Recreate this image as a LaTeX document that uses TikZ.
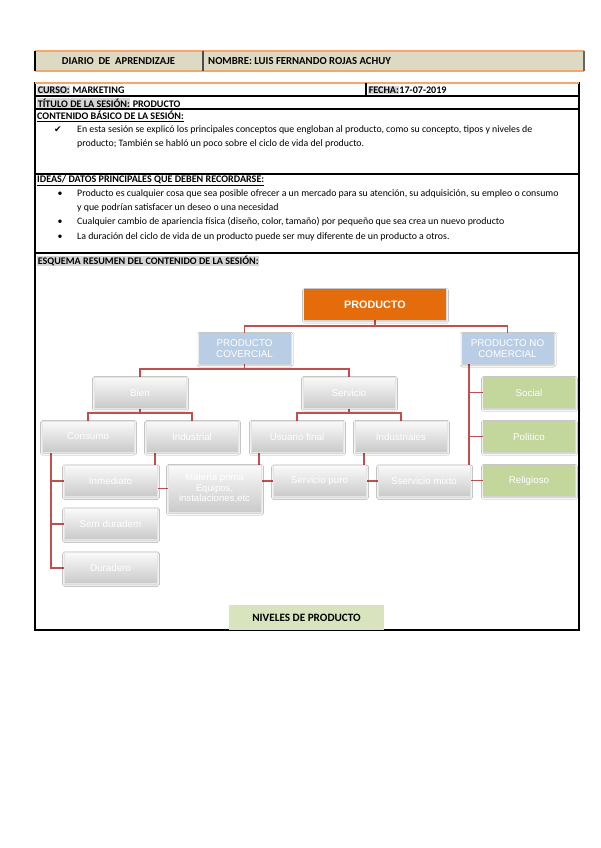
\documentclass[tikz,border=0pt]{standalone}
\usepackage{fontspec}
\setmainfont{Carlito}
\newfontfamily\arialf{Liberation Sans}
\newfontfamily\djv{DejaVu Sans}
\usetikzlibrary{backgrounds,shadows.blur}
\definecolor{orangeLine}{HTML}{F6A66A}
\definecolor{beige}{HTML}{DDD9C3}
\definecolor{hlgray}{HTML}{D6D6D6}
\definecolor{connRed}{HTML}{C0504D}
\definecolor{orangeBox}{HTML}{E46C0A}
\definecolor{blueBox}{HTML}{B9CDE5}
\definecolor{greenBox}{HTML}{C3D69B}
\definecolor{nivGreen}{HTML}{D7E4BD}
\newcommand\grayhl[1]{{\setlength{\fboxsep}{0.6pt}\colorbox{hlgray}{#1}}}
\tikzset{
  txt/.style={anchor=west, inner sep=0pt, font=\fontsize{9.85}{11}\selectfont},
  btxt/.style={txt, font=\fontsize{10.1}{11}\selectfont\bfseries},
  boxbase/.style={inner sep=0pt, align=center, text=white,
    font=\arialf\fontsize{9.8}{11}\selectfont,
    minimum width=92pt, minimum height=31pt,
    blur shadow={shadow blur steps=4, shadow xshift=0.6pt, shadow yshift=-1.2pt, shadow opacity=25}},
  gbox/.style={boxbase, top color=gray!4, bottom color=gray!42, draw=gray!20, line width=0.3pt},
  bbox/.style={boxbase, fill=blueBox},
  grbox/.style={boxbase, fill=greenBox},
  conn/.style={draw=connRed, line width=1.7pt}
}
\begin{document}
\begin{tikzpicture}[x=1pt,y=-1pt]
\useasboundingbox (0,0) rectangle (600,848);

% ---------- header ----------
\fill[beige] (35,51) rectangle (584,71);
\draw[orangeLine, line width=1.5pt] (35,51) -- (584,51);
\draw[orangeLine, line width=1.5pt] (35,71) -- (584,71);
\draw[black, line width=1.5pt] (35,51) -- (35,71);
\draw[black!70, line width=1.2pt] (203,51) -- (203,71);
\draw[black!60, line width=1.2pt] (584,51) -- (584,71);
\node[inner sep=0pt, font=\fontsize{10.6}{12}\selectfont\bfseries] (hdiario) at (118.5,61) {DIARIO\ \ DE\ \ APRENDIZAJE};
\node[btxt, font=\fontsize{10.7}{12}\selectfont\bfseries] (hnombre) at (208,61) {NOMBRE: LUIS FERNANDO ROJAS ACHUY};

% ---------- table ----------
\draw[black, line width=1.2pt] (35,83) rectangle (579,630);
\draw[orangeLine, line width=1.6pt] (35,83) -- (579,83);
\draw[black, line width=1.2pt] (35,96) -- (579,96);
\draw[black, line width=1.2pt] (35,109) -- (579,109);
\draw[black, line width=1.2pt] (35,174) -- (579,174);
\draw[black, line width=1.2pt] (35,253) -- (579,253);
\draw[black, line width=1.2pt] (366,83) -- (366,96);

\node[btxt] (curso) at (37,90) {\grayhl{CURSO:} MARKETING};
\node[btxt] (fecha) at (368,90) {\grayhl{FECHA:}17-07-2019};
\node[btxt] (titulo) at (37,103) {\grayhl{TÍTULO DE LA SESIÓN:} PRODUCTO};
\node[btxt] (contenido) at (37,116.5) {\underline{CONTENIDO BÁSICO DE LA SESIÓN:}};
\node[inner sep=0pt, font=\djv\fontsize{9}{10}\selectfont] (check) at (58,130) {✔};
\node[txt] (c1) at (77,130) {En esta sesión se explicó los principales conceptos que engloban al producto, como su concepto, tipos y niveles de};
\node[txt] (c2) at (77,143.5) {producto; También se habló un poco sobre el ciclo de vida del producto.};

\node[btxt] (ideas) at (37,180.5) {\underline{IDEAS/ DATOS PRINCIPALES QUE DEBEN RECORDARSE:}};
\node[inner sep=0pt, font=\fontsize{9.8}{11}\selectfont] (b1) at (60,194) {\textbullet};
\node[txt] (i1) at (77,194) {Producto es cualquier cosa que sea posible ofrecer a un mercado para su atención, su adquisición, su empleo o consumo};
\node[txt] (i1b) at (77,207.5) {y que podrían satisfacer un deseo o una necesidad};
\node[inner sep=0pt, font=\fontsize{9.8}{11}\selectfont] (b2) at (60,222) {\textbullet};
\node[txt] (i2) at (77,222) {Cualquier cambio de apariencia física (diseño, color, tamaño) por pequeño que sea crea un nuevo producto};
\node[inner sep=0pt, font=\fontsize{9.8}{11}\selectfont] (b3) at (60,237) {\textbullet};
\node[txt] (i3) at (77,237) {La duración del ciclo de vida de un producto puede ser muy diferente de un producto a otros.};

\node[btxt] (esquema) at (37,261) {\grayhl{ESQUEMA RESUMEN DEL CONTENIDO DE LA SESIÓN:}};

% ---------- diagram ----------
\node[boxbase, fill=orangeBox, minimum width=142pt, font=\arialf\fontsize{10.8}{12}\selectfont\bfseries] (prod) at (375,304.5) {PRODUCTO};
\node[bbox] (pcom) at (244.5,348.5) {PRODUCTO\\COVERCIAL};
\node[bbox] (pnc) at (507.5,348.5) {PRODUCTO NO\\COMERCIAL};
\node[gbox] (bien) at (140,392.5) {Bien};
\node[gbox] (serv) at (349,392.5) {Servicio};
\node[gbox] (cons) at (88,436.5) {Consumo};
\node[gbox] (indu) at (192,436.5) {Industrial};
\node[gbox] (usu) at (297,436.5) {Usuario final};
\node[gbox] (indus) at (401,436.5) {Industriales};
\node[gbox, minimum width=93pt] (inm) at (110.5,481) {Inmediato};
\node[gbox, minimum width=93pt, minimum height=47pt, font=\arialf\fontsize{9.6}{10.6}\selectfont] (mat) at (214.5,488.5) {Materia prima\\Equipos,\\instalaciones,etc};
\node[gbox, minimum width=93pt] (spuro) at (319.5,481) {Servicio puro};
\node[gbox] (smix) at (424,481) {Sservicio mixto};
\node[gbox, minimum width=93pt] (sem) at (110.5,524) {Sem duradem};
\node[gbox, minimum width=93pt] (dur) at (110.5,568) {Duradero};
\node[grbox] (soc) at (529,392.5) {Social};
\node[grbox] (pol) at (529,436.5) {Politico};
\node[grbox] (rel) at (529,480.5) {Religioso};

\node[inner sep=0pt, fill=nivGreen, minimum width=155pt, minimum height=25pt, font=\fontsize{11.2}{13}\selectfont\bfseries] (niv) at (306.5,617.5) {NIVELES DE PRODUCTO};

\begin{pgfonlayer}{background}
\fill[white] (0,0) rectangle (600,848);
\draw[conn] (prod.south) -- ++(0,6) -| (pcom.north);
\draw[conn] (prod.south) -- ++(0,6) -| (pnc.north);
\draw[conn] (pcom.south) -- ++(0,5) -| (bien.north);
\draw[conn] (pcom.south) -- ++(0,5) -| (serv.north);
\draw[conn] (bien.south) -- ++(0,5) -| (cons.north);
\draw[conn] (bien.south) -- ++(0,5) -| (indu.north);
\draw[conn] (serv.south) -- ++(0,5) -| (usu.north);
\draw[conn] (serv.south) -- ++(0,5) -| (indus.north);
\draw[conn] (cons.south west) ++(9,0) |- (inm.west);
\draw[conn] (cons.south west) ++(9,0) |- (sem.west);
\draw[conn] (cons.south west) ++(9,0) |- (dur.west);
\draw[conn] (indu.south west) ++(9,0) |- (mat.west);
\draw[conn] (usu.south west) ++(8,0) |- (spuro.west);
\draw[conn] (indus.south west) ++(9,0) |- (smix.west);
\draw[conn] (pnc.south west) ++(8,0) |- (soc.west);
\draw[conn] (pnc.south west) ++(8,0) |- (pol.west);
\draw[conn] (pnc.south west) ++(8,0) |- (rel.west);
\end{pgfonlayer}
\end{tikzpicture}
\end{document}
